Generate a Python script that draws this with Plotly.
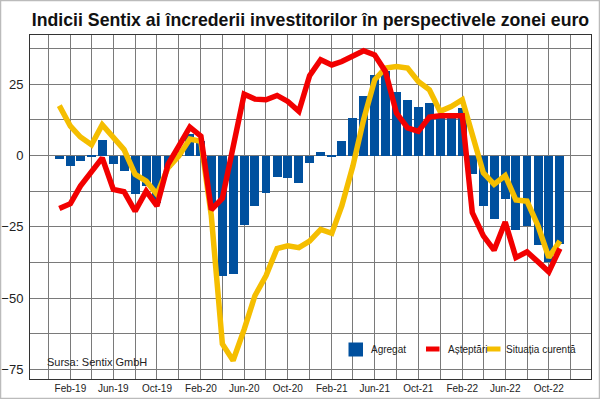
import plotly.graph_objects as go
import pandas as pd

months = pd.date_range("2019-01-01", periods=47, freq="MS")

agregat = [
    -1.2, -3.5, -2.0, -0.3, 5.3, -2.9, -5.5, -13.4, -10.7, -16.5, -4.5, 0.7,
    7.6, 5.2, -17.1, -42.4, -41.4, -24.5, -17.7, -13.2, -7.6, -7.8, -9.8, -2.5,
    1.3, -0.3, 5.1, 13.2, 21.0, 28.1, 29.8, 22.3, 19.6, 16.9, 18.4, 13.5,
    14.5, 16.7, -6.6, -17.7, -22.4, -15.4, -26.1, -24.7, -31.5, -37.5, -31.1,
]
asteptari = [
    -18.6, -16.9, -10.7, -5.5, -0.8, -11.9, -12.7, -19.5, -12.5, -17.7, -3.1, 3.3,
    10.0, 6.8, -19.0, -15.0, 2.0, 21.5, 19.8, 19.6, 21.1, 19.0, 15.5, 28.0,
    33.6, 31.8, 33.0, 35.0, 36.8, 35.3, 29.5, 14.9, 9.7, 8.5, 13.5, 14.0,
    14.0, 14.0, -20.0, -28.2, -33.2, -23.3, -35.8, -33.8, -37.3, -40.8, -32.6,
]
situatia = [
    17.5, 10.3, 6.5, 3.8, 10.8, 6.2, 2.1, -6.6, -9.0, -13.6, -4.3, -0.2,
    5.8, 5.0, -21.0, -66.1, -71.9, -61.0, -49.2, -42.2, -32.6, -31.7, -32.3, -30.0,
    -25.9, -27.3, -17.7, -3.7, 12.6, 26.6, 30.7, 31.2, 30.7, 26.0, 23.1, 15.5,
    17.2, 19.6, 6.8, -6.1, -10.1, -7.0, -15.6, -16.0, -24.7, -35.8, -30.0,
]
y_ticks = [-75, -50, -25, 0, 25]
series_names = ["Agregat", "Așteptări", "Situația curentă"]

BLUE = "#00509E"
RED = "#F20000"
YELLOW = "#F5BE00"

fig = go.Figure()
fig.add_trace(go.Bar(
    x=months, y=agregat, name=series_names[0],
    marker=dict(color=BLUE, line=dict(width=0)),
    width=25 * 86400000, showlegend=False,
))
fig.add_trace(go.Scatter(
    x=months, y=situatia, name=series_names[2], mode="lines",
    line=dict(color=YELLOW, width=5.5), showlegend=False,
))
fig.add_trace(go.Scatter(
    x=months, y=asteptari, name=series_names[1], mode="lines",
    line=dict(color=RED, width=5.5), showlegend=False,
))

L, R, T, B = 30, 9, 35, 20
W, H = 600, 399
pw, ph = W - L - R, H - T - B

def px_x(px):
    return (px - L) / pw

def px_y(py):
    return (H - B - py) / ph

fig.update_layout(
    width=W, height=H,
    margin=dict(l=L, r=R, t=T, b=B, autoexpand=False),
    paper_bgcolor="white", plot_bgcolor="white",
    font=dict(family="Liberation Sans, Arial, sans-serif", color="#222"),
    title=dict(
        text="<b>Indicii Sentix ai încrederii investitorilor în perspectivele zonei euro</b>",
        x=0.5, xref="paper", xanchor="center",
        y=1 - 20 / H, yref="container", yanchor="middle",
        font=dict(size=17.7, color="#111"),
    ),
    showlegend=False,
    bargap=0,
)
fig.update_xaxes(
    type="date", range=["2018-10-11", "2023-01-27"],
    tick0="2019-02-01", dtick="M4", tickformat="%b-%y",
    ticks="", tickfont=dict(size=10, color="#222"),
    showgrid=True, gridcolor="#7a7a7a", gridwidth=1,
    minor=dict(tick0="2019-02-01", dtick="M2", showgrid=True, gridcolor="#7a7a7a", gridwidth=1),
    showline=True, linecolor="#333", linewidth=1, mirror=True,
    zeroline=False,
)
fig.update_yaxes(
    range=[-78.4, 42.3], tickvals=y_ticks, ticks="",
    tickfont=dict(size=13, color="#222"),
    showgrid=True, gridcolor="#7a7a7a", gridwidth=1,
    minor=dict(tick0=0, dtick=12.5, showgrid=True, gridcolor="#7a7a7a", gridwidth=1),
    showline=True, linecolor="#333", linewidth=1, mirror=True,
    zeroline=False, ticklabelstandoff=3,
)
fig.add_annotation(
    text="Sursa: Sentix GmbH", xref="paper", yref="paper",
    x=px_x(45), y=px_y(362), xanchor="left", yanchor="middle",
    showarrow=False, font=dict(size=11, color="#222"),
)

# legend drawn as swatches + text
legend_items = [
    (series_names[0], BLUE, (348.5, 363, 342.5, 356.5), 369),
    (series_names[1], RED, (426, 439.5, 346.5, 351.5), 446),
    (series_names[2], YELLOW, (487, 500.5, 346.5, 351.5), 503.5),
]
for name, col, (sx0, sx1, sy0, sy1), tx in legend_items:
    fig.add_shape(
        type="rect", xref="paper", yref="paper",
        x0=px_x(sx0), x1=px_x(sx1), y0=px_y(sy1), y1=px_y(sy0),
        line=dict(width=0), fillcolor=col,
    )
    fig.add_annotation(
        text=name, xref="paper", yref="paper",
        x=px_x(tx), y=px_y(349), xanchor="left", yanchor="middle",
        showarrow=False, font=dict(size=10, color="#222"),
    )

fig.add_shape(
    type="rect", xref="paper", yref="paper",
    x0=px_x(0.5), x1=px_x(599.5), y0=px_y(398.5), y1=px_y(0.5),
    line=dict(color="#bbbbbb", width=1.5), fillcolor="rgba(0,0,0,0)",
)
fig.write_html(
    "out.html",
    config={"displayModeBar": False},
    post_script="document.body.style.margin='0';document.body.style.overflow='hidden';",
)
